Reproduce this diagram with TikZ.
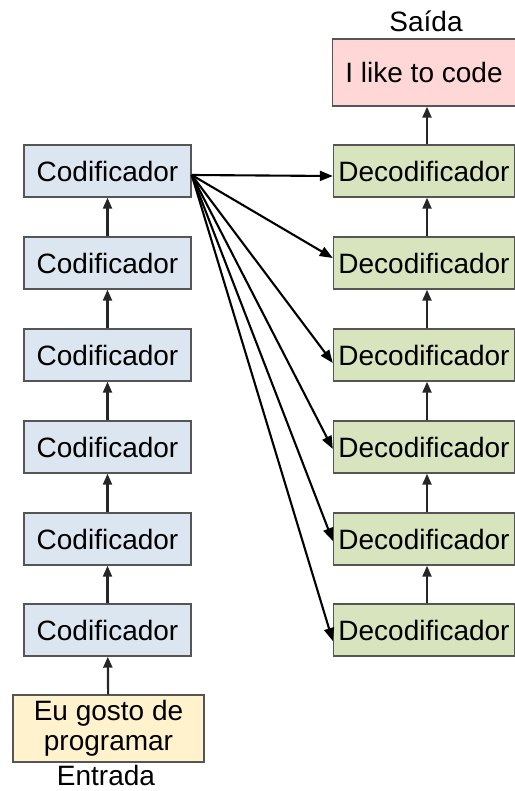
\documentclass[tikz,border=0pt]{standalone}
\usepackage{fontspec}
\setmainfont{Liberation Sans}
\usetikzlibrary{arrows.meta}
\definecolor{encfill}{HTML}{DCE6F1}
\definecolor{decfill}{HTML}{D8E4BE}
\definecolor{outfill}{HTML}{FFD7D7}
\definecolor{infill}{HTML}{FFF2CC}
\definecolor{boxline}{HTML}{555555}
\tikzset{
  box/.style={draw=boxline, line width=1.4pt, inner sep=0pt, align=center,
    font=\fontsize{28}{30}\selectfont},
  encbox/.style={box, fill=encfill, minimum width=167pt, minimum height=52pt},
  decbox/.style={box, fill=decfill, minimum width=181pt, minimum height=52pt},
  chain/.style={draw=black!85, line width=2.2pt, -{Triangle[length=11pt,width=9pt]}},
  cross/.style={draw=black, line width=2.1pt, -{Triangle[length=13pt,width=10pt]}},
  caption/.style={inner sep=0pt, font=\fontsize{28}{30}\selectfont}
}
\begin{document}
\begin{tikzpicture}[x=1pt, y=-1pt]
  \useasboundingbox (0,0) rectangle (514,791);
  % input and output boxes with their captions
  \node[box, fill=infill, minimum width=191pt, minimum height=67pt] (in) at (108.5,728.5) {Eu gosto de\\programar};
  \node[caption, anchor=base] (entrada) at (106,785) {Entrada};
  \node[box, fill=outfill, minimum width=183pt, minimum height=67pt] (out) at (424,72.5) {I like to code};
  \node[caption, anchor=base] (saida) at (426,32) {Saída};
  % encoder and decoder stacks
  \foreach \i/\y in {1/171, 2/263, 3/355, 4/447, 5/539, 6/630} {
    \node[encbox] (e\i) at (107.5,\y) {Codificador};
    \node[decbox] (d\i) at (424,\y) {Decodificador};
  }
  % vertical flow through the stacks
  \draw[chain] (in) -- (e6);
  \foreach \a/\b in {6/5, 5/4, 4/3, 3/2, 2/1} {
    \draw[chain] (e\a) -- (e\b);
    \draw[chain] ([xshift=3pt]d\a.north) -- ([xshift=3pt]d\b.south);
  }
  \draw[chain] ([xshift=3pt]d1.north) -- ([xshift=3pt]d1.north |- out.south);
  % top encoder feeds every decoder
  \coordinate (src) at ([yshift=-4pt]e1.east);
  \draw[cross] (src) -- ([yshift=-5pt]d1.west);
  \draw[cross] (src) -- ([yshift=5pt]d2.west);
  \draw[cross] (src) -- ([yshift=-8pt]d3.west);
  \draw[cross] (src) -- ([yshift=-2pt]d4.west);
  \draw[cross] (src) -- ([yshift=-2pt]d5.west);
  \draw[cross] (src) -- ([yshift=-11pt]d6.west);
\end{tikzpicture}
\end{document}
